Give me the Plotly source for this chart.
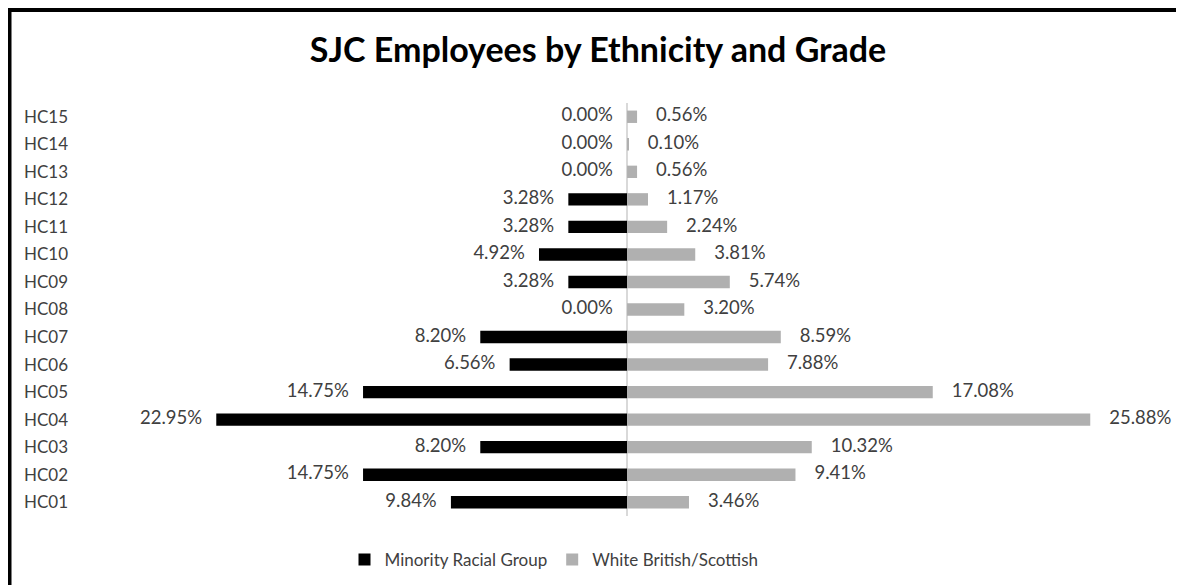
import plotly.graph_objects as go

# Grades, bottom to top
grades = ["HC01", "HC02", "HC03", "HC04", "HC05", "HC06", "HC07", "HC08",
          "HC09", "HC10", "HC11", "HC12", "HC13", "HC14", "HC15"]
minority = [9.84, 14.75, 8.20, 22.95, 14.75, 6.56, 8.20, 0.00,
            3.28, 4.92, 3.28, 3.28, 0.00, 0.00, 0.00]
white = [3.46, 9.41, 10.32, 25.88, 17.08, 7.88, 8.59, 3.20,
         5.74, 3.81, 2.24, 1.17, 0.56, 0.10, 0.56]

BLACK = "#000000"
GREY = "#b0b0b0"
TEXT = "#404040"
FONT = "Lato"
GAP = "\u00a0" * 3

# page body has an 8px margin, so the figure is drawn 8px in from the corner
W, H = 1176, 577
ML, MR, MT, MB = 122, 54, 95, 69

fig = go.Figure()

fig.add_trace(go.Bar(
    y=grades, x=[-v for v in minority], orientation="h",
    name="Minority Racial Group", marker=dict(color=BLACK, line_width=0),
    width=0.45, hoverinfo="skip"
))
fig.add_trace(go.Bar(
    y=grades, x=white, orientation="h",
    name="White British/Scottish", marker=dict(color=GREY, line_width=0),
    width=0.45, hoverinfo="skip"
))

# value labels beside the bar ends
fig.add_trace(go.Scatter(
    y=grades, x=[-v for v in minority], mode="text",
    text=[f"{v:.2f}%{GAP}" for v in minority], textposition="middle left",
    textfont=dict(family=FONT, size=18.5, color=TEXT),
    showlegend=False, hoverinfo="skip", cliponaxis=False
))
fig.add_trace(go.Scatter(
    y=grades, x=white, mode="text",
    text=[f"{GAP}\u00a0{v:.2f}%" for v in white], textposition="middle right",
    textfont=dict(family=FONT, size=18.5, color=TEXT),
    showlegend=False, hoverinfo="skip", cliponaxis=False
))

# outer frame (only top and left edges visible in the crop)
px = lambda x: (x - ML) / (W - ML - MR)
py = lambda y: 1 - (y - MT) / (H - MT - MB)
fig.add_shape(type="line", xref="paper", yref="paper",
              x0=px(1.5), x1=px(1200), y0=py(2), y1=py(2),
              line=dict(color="black", width=4))
fig.add_shape(type="line", xref="paper", yref="paper",
              x0=px(1.5), x1=px(1.5), y0=py(0), y1=py(600),
              line=dict(color="black", width=4))

fig.update_layout(
    width=W, height=H,
    margin=dict(l=ML, r=MR, t=MT, b=MB, autoexpand=False),
    paper_bgcolor="white", plot_bgcolor="white",
    barmode="overlay",
    font=dict(family=FONT, size=17, color=TEXT),
    title=dict(text="<b>SJC Employees by Ethnicity and Grade</b>",
               x=590 / W, xanchor="center", y=1 - 42 / H, yanchor="middle",
               font=dict(family=FONT, size=34, color="#000000")),
    xaxis=dict(range=[-27.77, 28.1], showticklabels=False, showgrid=False,
               zeroline=True, zerolinecolor="#d9d9d9", zerolinewidth=1.5,
               showline=False, fixedrange=True),
    yaxis=dict(categoryorder="array", categoryarray=grades,
               range=[-0.5, 14.5],
               showgrid=False, zeroline=False, showline=False,
               ticks="", ticklabelstandoff=61,
               tickfont=dict(family=FONT, size=17, color=TEXT)),
    legend=dict(orientation="h", x=px(546), xanchor="center",
                y=py(552), yanchor="middle",
                font=dict(family=FONT, size=17, color=TEXT),
                itemwidth=30, traceorder="normal"),
)

fig.write_html("out.html")
